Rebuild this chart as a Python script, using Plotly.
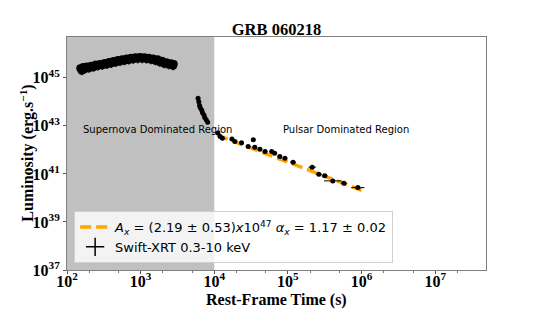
import numpy as np
import plotly.graph_objects as go

# ---- data (log10 values) ----
sn_log_t = [2.18, 2.20, 2.22, 2.24, 2.27, 2.30, 2.33, 2.36, 2.39, 2.42, 2.45, 2.48, 2.51,
            2.54, 2.57, 2.60, 2.63, 2.66, 2.69, 2.72, 2.75, 2.78, 2.81, 2.84, 2.87, 2.90,
            2.93, 2.96, 2.99, 3.02, 3.05, 3.08, 3.11, 3.14, 3.17, 3.20, 3.23, 3.26, 3.29,
            3.32, 3.35, 3.38, 3.41, 3.44, 3.45]
sn_log_L = [45.40, 45.30, 45.45, 45.36, 45.47, 45.40, 45.50, 45.44, 45.55, 45.49, 45.58,
            45.52, 45.62, 45.56, 45.66, 45.60, 45.70, 45.64, 45.74, 45.68, 45.77, 45.71,
            45.81, 45.74, 45.84, 45.77, 45.86, 45.79, 45.87, 45.79, 45.86, 45.78, 45.84,
            45.75, 45.81, 45.71, 45.77, 45.65, 45.71, 45.59, 45.65, 45.54, 45.61, 45.50,
            45.58]

steep_log_t = [3.78, 3.79, 3.80, 3.81, 3.83, 3.84, 3.86, 3.87, 3.89, 3.91]
steep_log_L = [44.15, 44.00, 43.85, 43.75, 43.65, 43.55, 43.45, 43.35, 43.25, 43.15]

pl_log_t = [4.05, 4.08, 4.11, 4.24, 4.28, 4.37, 4.46, 4.53, 4.55, 4.62, 4.69, 4.78, 4.82,
            4.89, 4.96, 5.07, 5.33, 5.42, 5.50, 5.61, 5.76, 5.95]
pl_log_L = [42.70, 42.56, 42.49, 42.45, 42.35, 42.30, 42.14, 42.42, 42.11, 42.03, 41.93,
            41.93, 41.86, 41.72, 41.65, 41.49, 41.28, 40.99, 40.92, 40.71, 40.61, 40.43]
pl_log_terr = [0.02, 0.02, 0.02, 0.03, 0.03, 0.03, 0.03, 0.03, 0.03, 0.03, 0.03, 0.03, 0.03,
               0.03, 0.03, 0.04, 0.05, 0.04, 0.04, 0.12, 0.04, 0.09]

fit_A = 2.19e47
fit_alpha = 1.17
fit_t_range = [1.1e4, 1.0e6]

x_ticks = [2, 3, 4, 5, 6, 7]
y_ticks = [37, 39, 41, 43, 45]

# ---- figure ----
serif = "Liberation Serif"
sans = "DejaVu Sans"


def errs(lt, lerr):
    lt = np.array(lt)
    lerr = np.array(lerr)
    tt = 10.0 ** lt
    return tt, 10.0 ** (lt + lerr) - tt, tt - 10.0 ** (lt - lerr)


fig = go.Figure()

fit_t = np.logspace(np.log10(fit_t_range[0]), np.log10(fit_t_range[1]), 50)
fig.add_trace(go.Scatter(
    x=fit_t, y=fit_A * fit_t ** (-fit_alpha), mode="lines",
    line=dict(color="#ffa500", width=3.5, dash="11px,5px"),
    name="<i>A<sub>x</sub></i> = (2.19 ± 0.53)<i>x</i>10<sup>47</sup> <i>α<sub>x</sub></i> = 1.17 ± 0.02",
    legendrank=1,
))

# supernova-dominated blob
t1, tp1, tm1 = errs(sn_log_t, [0.02] * len(sn_log_t))
fig.add_trace(go.Scatter(
    x=t1, y=10.0 ** np.array(sn_log_L), mode="markers",
    marker=dict(color="black", size=8),
    error_x=dict(type="data", array=tp1, arrayminus=tm1, color="black", thickness=1.5, width=0),
    error_y=dict(type="percent", value=35, color="black", thickness=1.5, width=0),
    showlegend=False,
))

# steep decay
t2, tp2, tm2 = errs(steep_log_t, [0.005] * len(steep_log_t))
fig.add_trace(go.Scatter(
    x=t2, y=10.0 ** np.array(steep_log_L), mode="markers",
    marker=dict(color="black", size=5),
    error_x=dict(type="data", array=tp2, arrayminus=tm2, color="black", thickness=1, width=0),
    error_y=dict(type="percent", value=15, color="black", thickness=1, width=0),
    showlegend=False,
))

# pulsar-dominated
t3, tp3, tm3 = errs(pl_log_t, pl_log_terr)
fig.add_trace(go.Scatter(
    x=t3, y=10.0 ** np.array(pl_log_L), mode="markers",
    marker=dict(color="black", size=5),
    error_x=dict(type="data", array=tp3, arrayminus=tm3, color="black", thickness=1, width=0),
    error_y=dict(type="percent", value=12, color="black", thickness=1, width=0),
    showlegend=False,
))

fig.add_trace(go.Scatter(
    x=[None], y=[None], mode="markers",
    marker=dict(symbol="cross-thin", size=13, color="black",
                line=dict(color="black", width=1.5)),
    name="Swift-XRT 0.3-10 keV", legendrank=2,
))

fig.add_shape(type="rect", xref="x", yref="paper", x0=1e2, x1=1e4, y0=0, y1=1,
              fillcolor="#c0c0c0", line=dict(width=0), layer="below")

fig.add_annotation(x=2.19, y=42.83, xref="x", yref="y", text="Supernova Dominated Region",
                   showarrow=False, xanchor="left", yanchor="middle",
                   font=dict(family=sans, size=10, color="black"))
fig.add_annotation(x=4.90, y=42.83, xref="x", yref="y", text="Pulsar Dominated Region",
                   showarrow=False, xanchor="left", yanchor="middle",
                   font=dict(family=sans, size=10, color="black"))

# axis titles
fig.add_annotation(x=0.5, y=-0.13, xref="paper", yref="paper", text="Rest-Frame Time (s)",
                   showarrow=False, xanchor="center", yanchor="middle",
                   font=dict(family=serif, size=16, color="black", weight="bold"))
fig.add_annotation(x=-0.095, y=0.5, xref="paper", yref="paper",
                   text="Luminosity (erg.s<sup>−1</sup>)", textangle=-90,
                   showarrow=False, xanchor="center", yanchor="middle",
                   font=dict(family=serif, size=16, color="black", weight="bold"))

fig.update_layout(
    width=540, height=309,
    margin=dict(l=67, r=54, t=37, b=39),
    paper_bgcolor="white", plot_bgcolor="white",
    title=dict(text="GRB 060218", x=0.512, xanchor="center", y=0.905, yanchor="middle",
               font=dict(family=serif, size=16.5, color="black", weight="bold")),
    legend=dict(x=0.017, y=0.03, xanchor="left", yanchor="bottom",
                bgcolor="rgba(255,255,255,0.8)", bordercolor="#d0d0d0", borderwidth=1,
                font=dict(family=sans, size=13, color="black"),
                tracegroupgap=2, itemwidth=30),
    showlegend=True,
)

fig.update_xaxes(
    type="log", range=[2, 7.69], automargin=False,
    tickvals=[10.0 ** v for v in x_ticks],
    ticktext=[f"10<sup>{v}</sup>" for v in x_ticks],
    ticks="outside", ticklen=3, tickcolor="#555", ticklabelstandoff=-6,
    minor=dict(ticks="outside", ticklen=2, tickcolor="#777", showgrid=False),
    showgrid=False, zeroline=False,
    showline=True, linecolor="#808080", linewidth=1, mirror=True,
    tickfont=dict(family=serif, size=16, color="black", weight="bold"),
)
fig.update_yaxes(
    type="log", range=[37, 46.7], automargin=False,
    tickvals=[10.0 ** v for v in y_ticks],
    ticktext=[f"10<sup>{v}</sup>" for v in y_ticks],
    ticks="outside", ticklen=3, tickcolor="#555",
    showgrid=False, zeroline=False,
    showline=True, linecolor="#808080", linewidth=1, mirror=True,
    tickfont=dict(family=serif, size=16, color="black", weight="bold"),
)

fig.write_html("out.html", config={"displayModeBar": False},
               post_script="document.body.style.margin='0';")
